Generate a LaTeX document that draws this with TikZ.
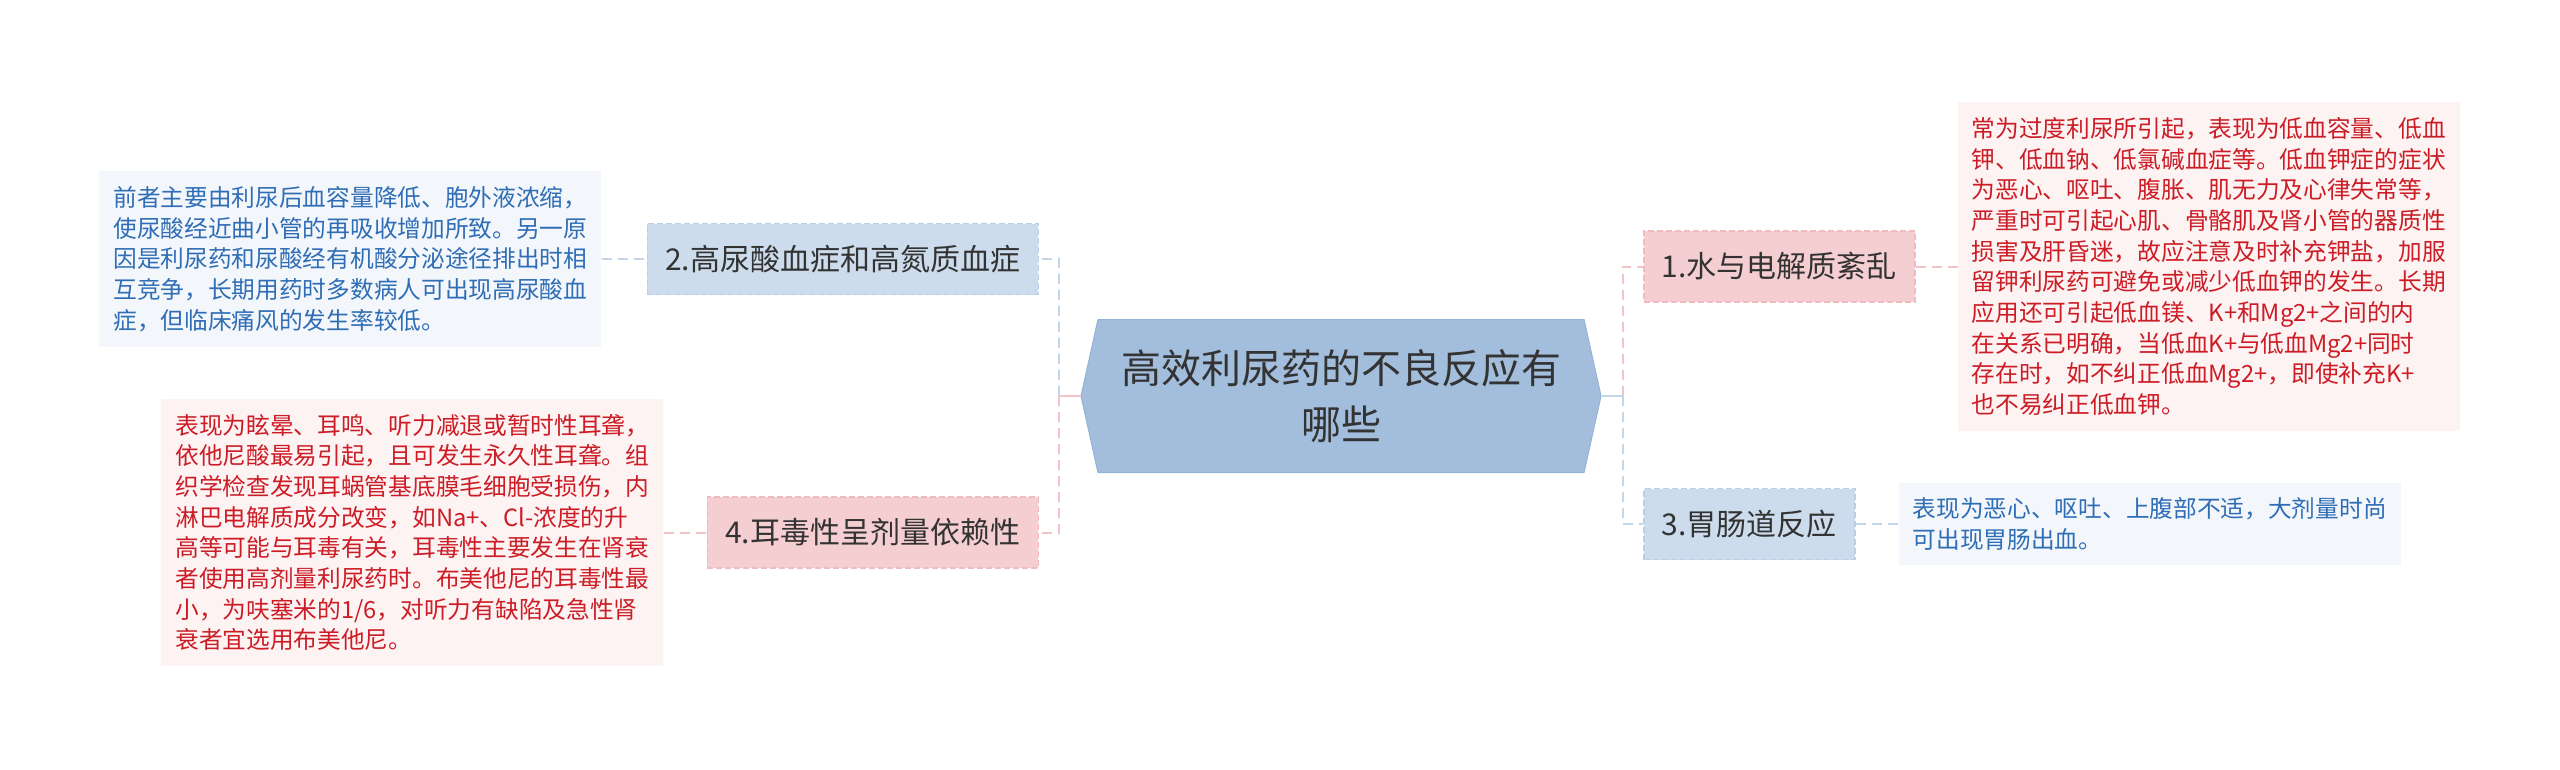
\documentclass[tikz,border=0pt]{standalone}
\usepackage{fontspec}
\newfontfamily\cjk{Noto Sans CJK SC}
\usepackage{tikz}
\usetikzlibrary{positioning, shapes.symbols}
\usepackage{xcolor}
\definecolor{centro}{HTML}{A2BEDC}
\definecolor{centroBorde}{HTML}{93B3D5}
\definecolor{azulNodo}{HTML}{CCDCEC}
\definecolor{azulBorde}{HTML}{BACFE6}
\definecolor{rosaNodo}{HTML}{F5CED1}
\definecolor{rosaBorde}{HTML}{EDBBC0}
\definecolor{azulHoja}{HTML}{F3F7FC}
\definecolor{rosaHoja}{HTML}{FDF3F3}
\definecolor{azulTexto}{HTML}{2F6DB5}
\definecolor{rosaTexto}{HTML}{CC1D26}
\definecolor{azulLinea}{HTML}{C5D6E9}
\definecolor{rosaLinea}{HTML}{F3C3C8}
\definecolor{textoOscuro}{HTML}{333333}

\begin{document}
\begin{tikzpicture}[
	x=1pt, y=-1pt,
	rama/.style={
		rectangle,
		line width=1.5pt,
		dash pattern=on 6pt off 3pt,
		minimum height=71pt,
		inner xsep=18pt,
		text=textoOscuro,
		font=\cjk\fontsize{30}{36}\selectfont
	},
	ramaAzul/.style={rama, fill=azulNodo, draw=azulBorde},
	ramaRosa/.style={rama, fill=rosaNodo, draw=rosaBorde},
	hoja/.style={
		rectangle,
		text width=474pt,
		align=left,
		inner xsep=14pt,
		inner ysep=15pt,
		font=\cjk\fontsize{23.7}{30.7}\selectfont
	},
	hojaAzul/.style={hoja, fill=azulHoja, text=azulTexto},
	hojaRosa/.style={hoja, fill=rosaHoja, text=rosaTexto},
	enlace/.style={line width=2pt},
	guion/.style={dash pattern=on 10pt off 6pt}
	]
	
	\fill[white] (0,0) rectangle (2560,769);
	\useasboundingbox (0,0) rectangle (2560,769);
	
	% Nodo central
	\node[
	shape=signal,
	signal to=west and east,
	signal pointer angle=155,
	minimum width=520pt,
	minimum height=153pt,
	fill=centro,
	draw=centroBorde,
	line width=1pt,
	align=center,
	text=textoOscuro,
	font=\cjk\fontsize{40}{56}\selectfont
	] (main) at (1341,396) {高效利尿药的不良反应有\\哪些};
	
	% Ramas
	\node[ramaAzul, anchor=east] (n2) at (1039,259) {2.高尿酸血症和高氮质血症};
	\node[ramaRosa, anchor=east] (n4) at (1039,532.5) {4.耳毒性呈剂量依赖性};
	\node[ramaRosa, anchor=west] (n1) at (1643,266.5) {1.水与电解质紊乱};
	\node[ramaAzul, anchor=west] (n3) at (1643,524) {3.胃肠道反应};
	
	% Hojas
	\node[hojaAzul, left=45pt of n2] (h2) {前者主要由利尿后血容量降低、胞外液浓缩，\\使尿酸经近曲小管的再吸收增加所致。另一原\\因是利尿药和尿酸经有机酸分泌途径排出时相\\互竞争，长期用药时多数病人可出现高尿酸血\\症，但临床痛风的发生率较低。};
	\node[hojaRosa, left=43pt of n4] (h4) {表现为眩晕、耳鸣、听力减退或暂时性耳聋，\\依他尼酸最易引起，且可发生永久性耳聋。组\\织学检查发现耳蜗管基底膜毛细胞受损伤，内\\淋巴电解质成分改变，如Na+、Cl-浓度的升\\高等可能与耳毒有关，耳毒性主要发生在肾衰\\者使用高剂量利尿药时。布美他尼的耳毒性最\\小，为呋塞米的1/6，对听力有缺陷及急性肾\\衰者宜选用布美他尼。};
	\node[hojaRosa, right=42pt of n1] (h1) {常为过度利尿所引起，表现为低血容量、低血\\钾、低血钠、低氯碱血症等。低血钾症的症状\\为恶心、呕吐、腹胀、肌无力及心律失常等，\\严重时可引起心肌、骨骼肌及肾小管的器质性\\损害及肝昏迷，故应注意及时补充钾盐，加服\\留钾利尿药可避免或减少低血钾的发生。长期\\应用还可引起低血镁、K+和Mg2+之间的内\\在关系已明确，当低血K+与低血Mg2+同时\\存在时，如不纠正低血Mg2+，即使补充K+\\也不易纠正低血钾。};
	\node[hojaAzul, right=43pt of n3] (h3) {表现为恶心、呕吐、上腹部不适，大剂量时尚\\可出现胃肠出血。};
	
	% Conexiones izquierdas
	\coordinate[left=21pt of main.west] (juntaIzq);
	\draw[enlace, azulLinea, guion] (juntaIzq) |- (n2.east);
	\draw[enlace, rosaLinea, guion] (juntaIzq) |- (n4.east);
	\draw[enlace, rosaLinea] (main.west) -- (juntaIzq);
	
	% Conexiones derechas
	\coordinate[right=21pt of main.east] (juntaDer);
	\draw[enlace, rosaLinea, guion] (juntaDer) |- (n1.west);
	\draw[enlace, azulLinea, guion] (juntaDer) |- (n3.west);
	\draw[enlace, azulLinea] (main.east) -- (juntaDer);
	
	% Hojas
	\draw[enlace, azulLinea, guion] (h2) -- (n2);
	\draw[enlace, rosaLinea, guion] (h4) -- (n4);
	\draw[enlace, rosaLinea, guion] (n1) -- (h1);
	\draw[enlace, azulLinea, guion] (n3) -- (h3);
	
\end{tikzpicture}
\end{document}
